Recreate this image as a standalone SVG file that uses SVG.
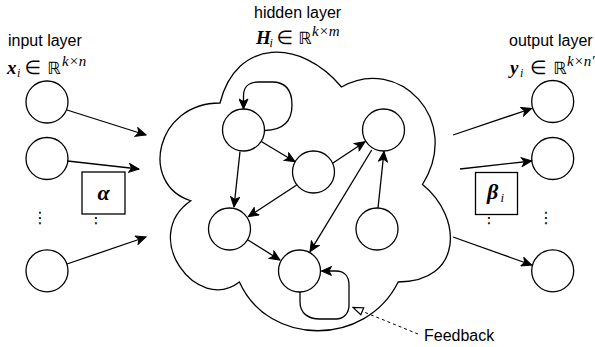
<svg xmlns="http://www.w3.org/2000/svg" width="595" height="347" viewBox="0 0 595 347">
<style>
.n{fill:#fff;stroke:#000;stroke-width:1.3}
.e{fill:none;stroke:#000;stroke-width:1.3;marker-end:url(#arr)}
.lbl{font-family:"Liberation Sans",Arial,sans-serif;font-size:16px;fill:#000}
.m{font-family:"Liberation Serif","DejaVu Serif",serif;fill:#000}
.sym{font-family:"DejaVu Sans",sans-serif;fill:#000}
.dots{font-family:"DejaVu Sans",sans-serif;font-size:16px;fill:#000}
</style>
<defs>
<marker id="arr" viewBox="-11 -5 12 10" refX="0" refY="0" markerWidth="12" markerHeight="10" markerUnits="userSpaceOnUse" orient="auto">
<path d="M-10,-4.5 L0,0 L-10,4.5 L-7.5,0 Z" fill="#000" stroke="#000" stroke-width="1"/>
</marker>
<marker id="open" viewBox="-12 -6 13 12" refX="0" refY="0" markerWidth="13" markerHeight="12" markerUnits="userSpaceOnUse" orient="auto">
<path d="M-10,-3.8 L0,0 L-10,3.8 Z" fill="#fff" stroke="#000" stroke-width="1.2"/>
</marker>
</defs>

<!-- labels -->
<text class="lbl" x="8" y="46">input layer</text>
<text class="lbl" x="254" y="18">hidden layer</text>
<text class="lbl" x="509" y="46">output layer</text>
<text class="lbl" x="424" y="341">Feedback</text>

<!-- math labels -->
<g id="math-in">
<text class="m" x="7" y="74" font-size="19" font-weight="bold" font-style="italic">x</text>
<text class="m" x="17" y="77" font-size="12" font-style="italic">i</text>
<text class="sym" x="24.5" y="74" font-size="19">∈</text>
<text class="sym" x="47" y="74" font-size="17">ℝ</text>
<text class="m" x="62" y="66" font-size="15" font-style="italic">k×n</text>
</g>
<g id="math-hid">
<text class="m" x="256" y="44" font-size="19" font-weight="bold" font-style="italic">H</text>
<text class="m" x="269.5" y="47" font-size="12" font-style="italic">i</text>
<text class="sym" x="276.5" y="44" font-size="19">∈</text>
<text class="sym" x="298" y="44" font-size="17">ℝ</text>
<text class="m" x="312" y="36" font-size="15" font-style="italic">k×m</text>
</g>
<g id="math-out">
<text class="m" x="510" y="74" font-size="19" font-weight="bold" font-style="italic">y</text>
<text class="m" x="520" y="77" font-size="12" font-style="italic">i</text>
<text class="sym" x="530" y="74" font-size="19">∈</text>
<text class="sym" x="553" y="74" font-size="17">ℝ</text>
<text class="m" x="567" y="66" font-size="15" font-style="italic">k×n′</text>
</g>

<!-- cloud -->
<g id="cloud">
<path class="n" d="M220,103 C155.2,103 139,184.5 190.8,200.75 C139,236.5 197.3,314.5 239.4,282 C268.6,347 365.8,347 398.2,282 C463,282 463,217 422.5,184.5 C463,119.5 398.2,54.5 341.5,87 C301,38.25 236.2,38.25 220,103 Z"/>
</g>

<!-- dots -->
<text class="dots" x="40" y="223" text-anchor="middle">⋮</text>
<text class="dots" x="96" y="223" text-anchor="middle">⋮</text>
<text class="dots" x="546" y="223" text-anchor="middle">⋮</text>
<text class="dots" x="489" y="223" text-anchor="middle">⋮</text>

<!-- input nodes -->
<g id="in1"><circle class="n" cx="47" cy="102" r="21"/></g>
<g id="in2"><circle class="n" cx="47" cy="158.5" r="21"/></g>
<g id="in3"><circle class="n" cx="47" cy="270.8" r="21"/></g>

<!-- output nodes -->
<g id="out1"><circle class="n" cx="552.7" cy="101.5" r="21"/></g>
<g id="out2"><circle class="n" cx="552.7" cy="158.5" r="21"/></g>
<g id="out3"><circle class="n" cx="552.7" cy="270.8" r="21"/></g>

<!-- weight boxes -->
<g id="alpha">
<rect class="n" x="82" y="172" width="43" height="42"/>
<text class="m" x="103.5" y="200" font-size="22" font-weight="bold" font-style="italic" text-anchor="middle">α</text>
</g>
<g id="beta">
<rect class="n" x="475.5" y="172.5" width="42" height="42"/>
<text class="m" x="487" y="199" font-size="22" font-weight="bold" font-style="italic">β</text>
<text class="m" x="500.5" y="202" font-size="13" font-style="italic">i</text>
</g>

<!-- hidden nodes -->
<g id="h1"><circle class="n" cx="243.5" cy="130" r="21"/></g>
<g id="h2"><circle class="n" cx="313.5" cy="172" r="21"/></g>
<g id="h3"><circle class="n" cx="383.5" cy="130" r="21"/></g>
<g id="h4"><circle class="n" cx="229.5" cy="229" r="21"/></g>
<g id="h5"><circle class="n" cx="377" cy="229" r="21"/></g>
<g id="h6"><circle class="n" cx="299.5" cy="271" r="21"/></g>

<!-- connectors -->
<g id="edges">
<path class="e" d="M67,110 L146,135"/>
<path class="e" d="M67.5,161 L139,169"/>
<path class="e" d="M67,264 L146,237"/>
<path class="e" d="M453,135 L531.7,108.5"/>
<path class="e" d="M460,169 L531.7,161"/>
<path class="e" d="M453,237 L531.7,265"/>
<path class="e" d="M265,130.5 C285,130 292,120 292,105 C292,90 285,82 272,82 L258,82 C248,82 243.5,88 243.5,96 L243.5,109"/>
<path class="e" d="M240,151.5 L234,207"/>
<path class="e" d="M261.7,141.7 L295,161.7"/>
<path class="e" d="M333,163 L365,141.7"/>
<path class="e" d="M296.7,185 L248.3,216.7"/>
<path class="e" d="M371.7,150 L310,251.7"/>
<path class="e" d="M378,208 L384,151.5"/>
<path class="e" d="M248,240 L280,260"/>
<path class="e" d="M300,292 L300,302 C300,313 308,319 320,319 L336,319 C344,319 349,313 349,305 L349,285 C349,276 344,271 336,271 L321.5,271"/>
<path d="M418,334 L353,307.5" fill="none" stroke="#000" stroke-width="1" stroke-dasharray="3,3" marker-end="url(#open)"/>
</g>
</svg>
